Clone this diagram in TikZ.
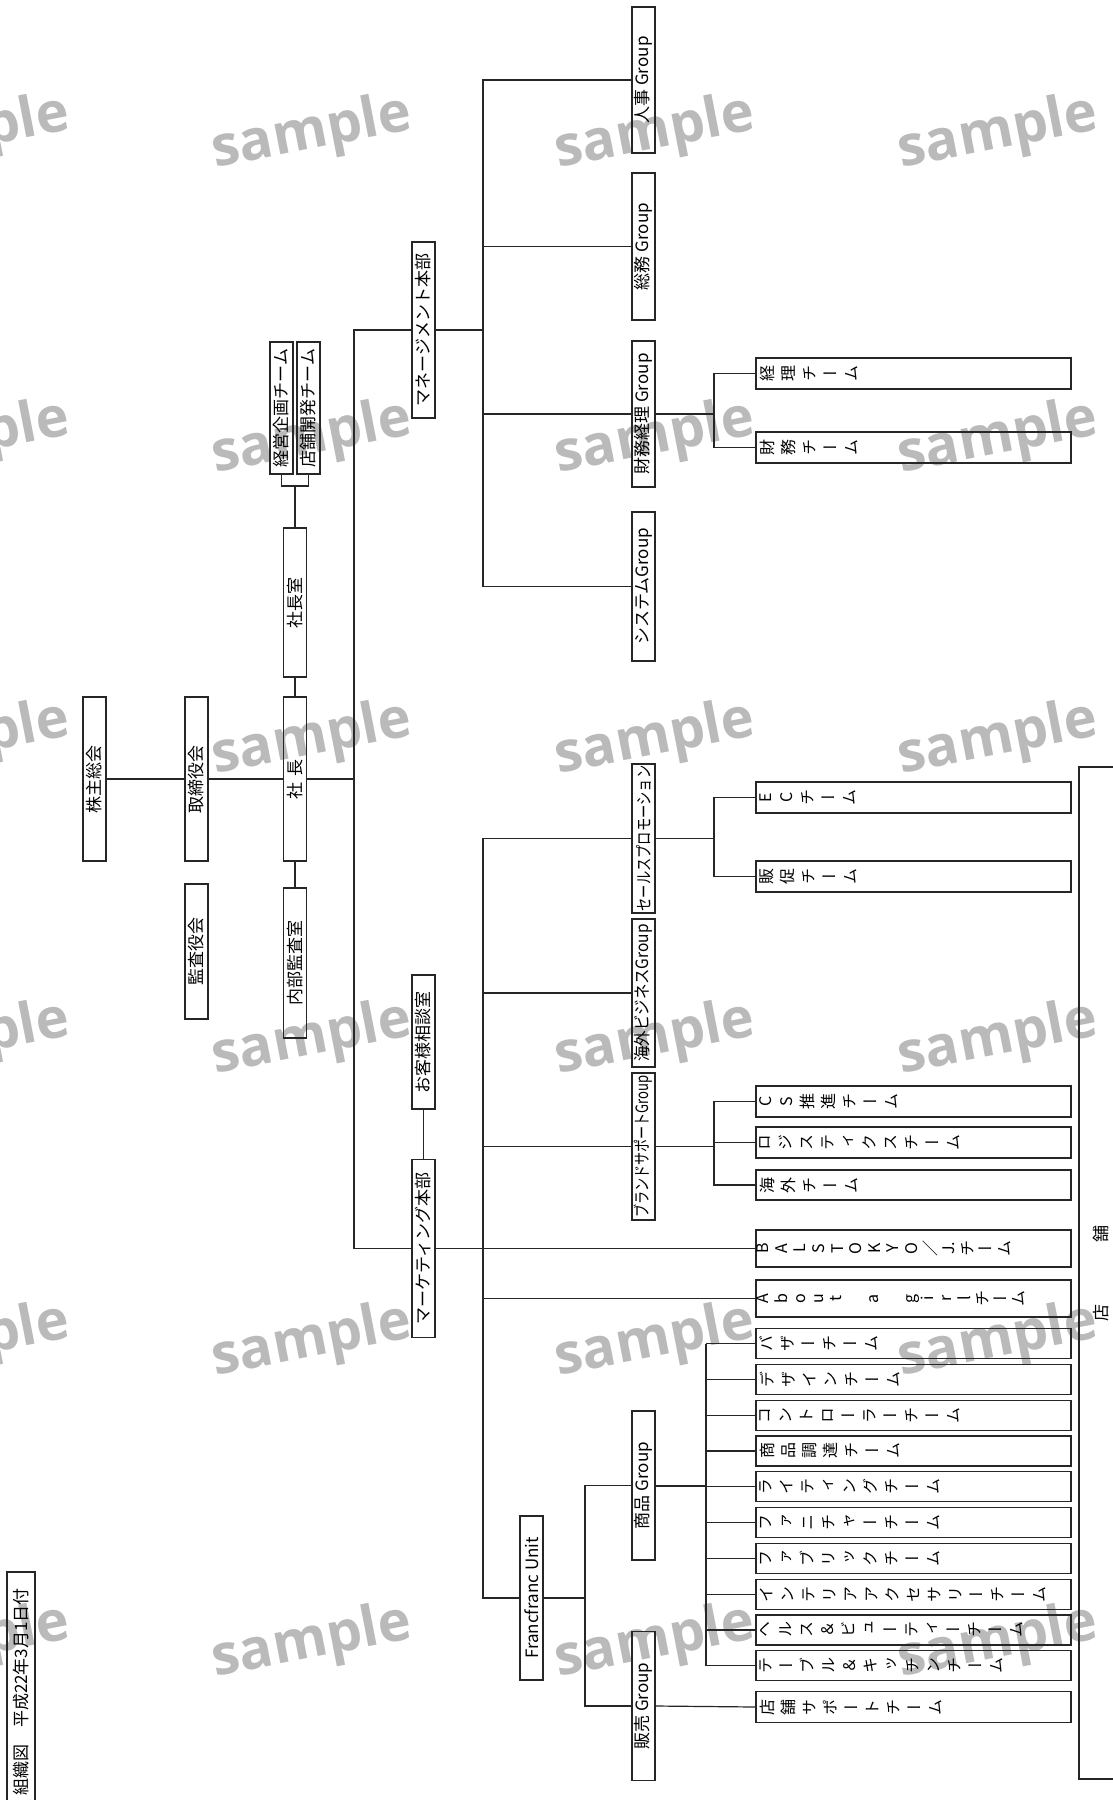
\documentclass[tikz,border=0pt]{standalone}
\usepackage{graphicx}
\usepackage{fontspec}
\setmainfont{Noto Sans CJK JP}
\newfontfamily\tatefont{Noto Sans CJK JP}[RawFeature=+vert]
\newfontfamily\wmfont{Open Sans}

% one character per line, for the boxes set in vertical writing
\def\tatepitch{21pt}
\def\tatepad{4pt}
\def\tatesplit#1{\ifx#1\relax\else#1\par\expandafter\tatesplit\fi}
\newcommand\tate[2][31pt]{\parbox[c][315pt][t]{#1}{\centering\tatefont\fontsize{16}{\tatepitch}\selectfont
  \vspace*{\tatepad}\expandafter\tatesplit#2\relax}}

\begin{document}
\begin{tikzpicture}[x=1pt, y=-1pt,
  tbox/.style={draw=black!85, line width=1.2pt, rotate=90, inner sep=0pt,
    minimum height=23pt, font=\fontsize{17}{17}\selectfont},
  wbox/.style={draw=black!85, line width=1.2pt, rotate=90, inner sep=0pt},
  link/.style={draw=black!85, line width=1.2pt},
  wmark/.style={rotate=11, text=black!27, inner sep=0pt,
    font=\wmfont\bfseries\fontsize{56}{56}\selectfont}
]
\fill[white] (0,0) rectangle (1113,1800);
\useasboundingbox (0,0) rectangle (1113,1800);

% watermark
\foreach \wy [count=\r] in {134,439,740,1040,1342,1643}
  \foreach \wx [count=\c] in {-30,312,655,998}
    \node[wmark] (wm\r\c) at (\wx,\wy) {sample};

% top of the company
\node[tbox, minimum width=164pt] (kabunushi) at (94.5,779) {株主総会};
\node[tbox, minimum width=164pt] (torishimari) at (196.5,779) {取締役会};
\node[tbox, minimum width=164pt] (shacho) at (295,779) {社\hspace{6pt}長};
\node[tbox, minimum width=135pt] (kansa) at (196.5,951.5) {監査役会};
\node[tbox, minimum width=150pt] (naibu) at (295,963) {内部監査室};
\node[tbox, minimum width=149pt] (shitsu) at (295,602.5) {社長室};
\node[tbox, minimum width=132pt] (keiei) at (281.5,408) {経営企画チーム};
\node[tbox, minimum width=132pt] (tenpo) at (308.5,408) {店舗開発チーム};
\node[tbox, minimum width=176pt] (mgmt) at (423.5,330) {マネージメント本部};
\node[tbox, minimum width=134pt] (okyaku) at (423.5,1042) {お客様相談室};
\node[tbox, minimum width=178pt] (mkt) at (423.5,1248.5) {マーケティング本部};

% groups
\node[tbox, minimum width=146pt] (jinji) at (643.5,80) {人事 Group};
\node[tbox, minimum width=147pt] (somu) at (643.5,246.5) {総務 Group};
\node[tbox, minimum width=146pt] (zaimu) at (643.5,414) {財務経理 Group};
\node[tbox, minimum width=149pt] (system) at (643.5,586.5) {システムGroup};
\node[tbox, minimum width=149pt] (sales) at (643.5,838.5) {\scalebox{0.78}[1]{セールスプロモーション}};
\node[tbox, minimum width=148pt] (kaigai) at (643.5,993) {\scalebox{0.91}[1]{海外ビジネスGroup}};
\node[tbox, minimum width=147pt] (brand) at (643.5,1146.5) {\scalebox{0.77}[1]{ブランドサポートGroup}};
\node[tbox, minimum width=164pt] (ff) at (531.5,1598) {Francfranc Unit};
\node[tbox, minimum width=149pt] (shohin) at (643.5,1485.5) {商品 Group};
\node[tbox, minimum width=149pt] (hanbai) at (643.5,1706) {販売 Group};

% teams
\node[wbox] (keiri) at (913.5,373.5) {\tate{経理チーム}};
\node[wbox] (zaimut) at (913.5,447.5) {\tate{財務チーム}};
\node[wbox] (ec) at (913.5,797.5) {\tate{ECチーム}};
\node[wbox] (hansoku) at (913.5,876.5) {\tate{販促チーム}};
\node[wbox] (cs) at (913.5,1101.5) {\tate{CS推進チーム}};
\node[wbox] (logi) at (913.5,1142.5) {\tate{ロジスティクスチーム}};
\node[wbox] (kaigait) at (913.5,1185) {\tate[30pt]{海外チーム}};
\node[wbox] (bals) at (913.5,1248.5) {\def\tatepitch{18.6pt}\def\tatepad{1pt}\tate[37pt]{BALSTOKYO／{J.}チーム}};
\node[wbox] (about) at (913.5,1298.5) {\def\tatepitch{18.3pt}\def\tatepad{1pt}\tate[37pt]{About~a~girlチーム}};
\foreach \tname [count=\i] in {バザーチーム, デザインチーム, コントローラーチーム,
    商品調達チーム, ライティングチーム, ファニチャーチーム, ファブリックチーム,
    インテリアアクセサリーチーム, ヘルス＆ビューティーチーム, テーブル＆キッチンチーム}
  \node[wbox] (team\i) at (913.5,{1343.5+35.8*(\i-1)}) {\tate[30pt]{\tname}};
\node[wbox] (support) at (913.5,1707) {\tate{店舗サポートチーム}};

\node[tbox, minimum width=1012pt, minimum height=44pt] (tenpobu) at (1101,1273) {店\hspace{62pt}舗};
\node[tbox, minimum width=240pt, minimum height=28pt] (title) at (21,1692) {組織図　平成22年3月1日付};

% connectors
\coordinate (trunk) at (354,0);
\coordinate (mbus) at (483,0);
\coordinate (gbus) at (714,0);
\coordinate (ubus) at (585,0);
\coordinate (sbus) at (706,0);
\coordinate (sjoint) at (295,486);

\draw[link] (kabunushi.south) -- (torishimari.north);
\draw[link] (torishimari.south) -- (shacho.north);
\draw[link] (shacho.south) -- (shacho.south -| trunk);
\draw[link] (shacho.east) -- (shitsu.west);
\draw[link] (shacho.west) -- (naibu.east);
\draw[link] (shitsu.east) -- (sjoint);
\draw[link] (keiei.west) |- (sjoint) -| (tenpo.west);
\draw[link] (mgmt.north) -- (mgmt.north -| trunk) -- (mkt.north -| trunk) -- (mkt.north);
\draw[link] (okyaku.west) -- (mkt.east);

\draw[link] (mgmt.south) -- (mgmt.south -| mbus);
\draw[link] (jinji.north) -- (jinji.north -| mbus) -- (system.north -| mbus) -- (system.north);
\foreach \g in {somu, zaimu}
  \draw[link] (\g.north) -- (\g.north -| mbus);
\draw[link] (zaimu.south) -- (zaimu.south -| gbus);
\draw[link] (keiri.north) -- (keiri.north -| gbus) -- (zaimut.north -| gbus) -- (zaimut.north);

\draw[link] (mkt.south) -- (bals.north);
\draw[link] (sales.north) -- (sales.north -| mbus) -- (ff.north -| mbus) -- (ff.north);
\foreach \g in {kaigai, brand, about}
  \draw[link] (\g.north) -- (\g.north -| mbus);
\draw[link] (sales.south) -- (sales.south -| gbus);
\draw[link] (ec.north) -- (ec.north -| gbus) -- (hansoku.north -| gbus) -- (hansoku.north);
\draw[link] (brand.south) -- (brand.south -| gbus);
\draw[link] (cs.north) -- (cs.north -| gbus) -- (kaigait.north -| gbus) -- (kaigait.north);
\draw[link] (logi.north) -- (logi.north -| gbus);

\draw[link] (ff.south) -- (ff.south -| ubus);
\draw[link] (shohin.north) -- (shohin.north -| ubus) -- (hanbai.north -| ubus) -- (hanbai.north);
\draw[link, line width=2pt] (shohin.south) -- (shohin.south -| sbus);
\draw[link, line width=1.6pt] (team1.north -| sbus) -- (team10.north -| sbus);
\foreach \i in {1,...,10}
  \draw[link] (team\i.north) -- (team\i.north -| sbus);
\draw[link] (hanbai.south) -- (support.north);
\end{tikzpicture}
\end{document}
